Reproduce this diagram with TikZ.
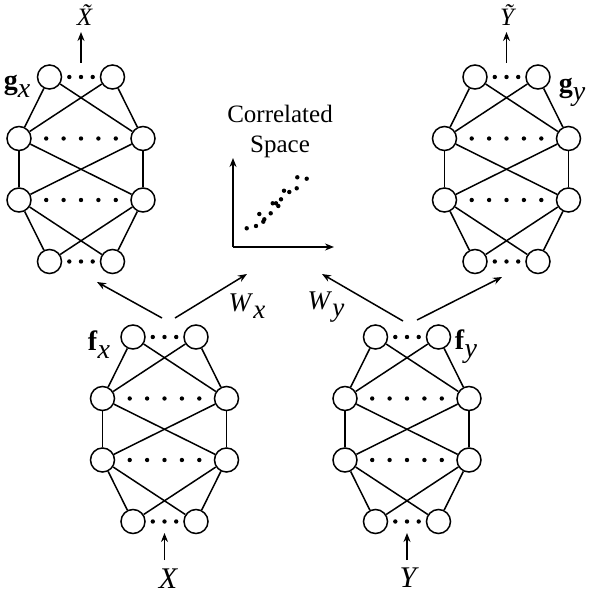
\documentclass[tikz,border=0pt]{standalone}
\usepackage{fontspec}
\setmainfont{Liberation Serif}
\usetikzlibrary{arrows.meta}
% letter with a full-size lowered index, as in the figure
\newcommand{\lowsub}[2]{#1\raisebox{-0.28em}{\itshape #2}}

\begin{document}
\begin{tikzpicture}[x=1pt,y=-1pt,
    neuron/.style={circle,draw,line width=1.5pt,minimum size=24pt,inner sep=0pt},
    link/.style={line width=1.5pt},
    flow/.style={line width=1.5pt,-{Stealth[length=9pt,width=7pt]}},
    mathlbl/.style={inner sep=0pt,font=\fontsize{28}{30}\selectfont},
    dotfill/.style={fill=black}]
    \useasboundingbox (0,0) rectangle (594,594);
    \def\Dy{61.5}
    \foreach \net/\cx/\cy in {gx/81/77, gy/506.5/77, fx/164.5/337, fy/407/337}{
            % four layers: narrow, wide, wide, narrow
            \foreach \w[count=\n] in {31.5,62,62,31.5}{
                    \node[neuron] (\net-\n-l) at (\cx-\w,\cy+\n*\Dy-\Dy) {};
                    \node[neuron] (\net-\n-r) at (\cx+\w,\cy+\n*\Dy-\Dy) {};
                }
            % every layer fully linked to the next one
            \foreach \n[evaluate=\n as \m using int(\n+1)] in {1,2,3}{
                    \foreach \a in {l,r}{
                            \foreach \b in {l,r}{
                                    \draw[link] (\net-\n-\a) -- (\net-\m-\b);
                                }
                        }
                }
            \foreach \k in {-1,0,1}{
                    \fill[dotfill] (\cx+\k*11.7,\cy) circle (2.2pt);
                    \fill[dotfill] (\cx+\k*11.7,\cy+3*\Dy) circle (2.2pt);
                }
            \foreach \k in {-2,...,2}{
                    \fill[dotfill] (\cx+\k*17.4,\cy+\Dy) circle (2.2pt);
                    \fill[dotfill] (\cx+\k*17.4,\cy+2*\Dy) circle (2.2pt);
                }
        }

    % inputs and outputs
    \node[mathlbl,font=\fontsize{30}{30}\selectfont\itshape] (X) at (168,579) {X};
    \node[mathlbl,font=\fontsize{30}{30}\selectfont\itshape] (Y) at (408,578) {Y};
    \node[mathlbl,font=\fontsize{25}{30}\selectfont\itshape] (Xt) at (84.5,15) {\~{X}};
    \node[mathlbl,font=\fontsize{25}{30}\selectfont\itshape] (Yt) at (507,15) {\~{Y}};
    \coordinate (X-a) at (164.5,560);
    \coordinate (X-b) at (164.5,533);
    \coordinate (Y-a) at (407,560);
    \coordinate (Y-b) at (407,533);
    \coordinate (Xt-a) at (81,63);
    \coordinate (Xt-b) at (81,32);
    \coordinate (Yt-a) at (506.5,63);
    \coordinate (Yt-b) at (506.5,32);
    \draw[flow] (X-a) -- (X-b);
    \draw[flow] (Y-a) -- (Y-b);
    \draw[flow] (Xt-a) -- (Xt-b);
    \draw[flow] (Yt-a) -- (Yt-b);

    % network names
    \node[mathlbl] (gx) at (17,86) {\lowsub{\textbf{g}}{x}};
    \node[mathlbl] (gy) at (572,92) {\lowsub{\textbf{g}}{y}};
    \node[mathlbl] (fx) at (99,345) {\lowsub{\textbf{f}}{x}};
    \node[mathlbl] (fy) at (466,347) {\lowsub{\textbf{f}}{y}};

    % projections
    \coordinate (fx-l) at (162,318);
    \coordinate (fx-r) at (175,318);
    \coordinate (fy-l) at (403,321);
    \coordinate (fy-r) at (417,320);
    \coordinate (gx-in) at (97,282);
    \coordinate (gy-in) at (502,277);
    \coordinate (cs-l) at (247,274);
    \coordinate (cs-r) at (322,274);
    \draw[flow] (fx-l) -- (gx-in);
    \draw[flow] (fx-r) -- (cs-l);
    \draw[flow] (fy-l) -- (cs-r);
    \draw[flow] (fy-r) -- (gy-in);
    \node[mathlbl,font=\fontsize{27}{30}\selectfont] (Wx) at (247,306) {\lowsub{\textit{W}}{x}};
    \node[mathlbl,font=\fontsize{27}{30}\selectfont] (Wy) at (326,307) {\lowsub{\textit{W}}{y}};

    % correlated space
    \node[inner sep=0pt,align=center,font=\fontsize{25}{30}\selectfont] (cs) at (280,131) {Correlated\\Space};
    \coordinate (o) at (233,247);
    \coordinate (o-y) at (233,158);
    \coordinate (o-x) at (334,247);
    \draw[flow] (o) -- (o-y);
    \draw[flow] (o) -- (o-x);
    \foreach \px/\py in {246.7/228.3, 256/226, 259.3/214, 263.3/221.7, 264.3/219.3,
            270.7/213.3, 272.7/203.3, 276/203.3, 278.3/206, 281/199.3, 284/190.7,
            289.3/192, 296.7/188.3, 297.3/177.3, 306.7/178.7}{
            \fill[dotfill] (\px,\py) circle (2.2pt);
        }
\end{tikzpicture}
\end{document}
